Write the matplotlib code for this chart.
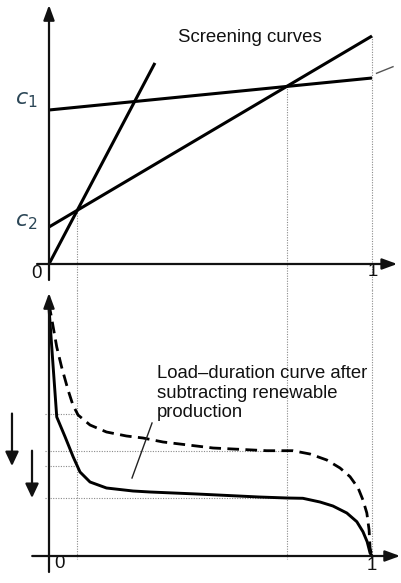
import numpy as np
import matplotlib
matplotlib.use("Agg")
import matplotlib.pyplot as plt

plt.rcParams['font.family'] = ['Liberation Sans', 'DejaVu Sans']
plt.rcParams['mathtext.fontset'] = 'dejavusans'

# ---------------- data ----------------
# screening curves: intercept (fixed cost) and slope (variable cost)
line_names = ["steep", "c2", "c1"]
intercepts = [0.0, 0.37, 1.54]
slopes = [6.13, 1.91, 0.32]
x_end = [0.328, 1.0, 1.0]

# load-duration curve (dashed, before renewables)
ldc_x = [0.0, 0.008, 0.024, 0.039, 0.059, 0.074, 0.090, 0.127, 0.178, 0.240, 0.291,
         0.353, 0.508, 0.674, 0.755, 0.808, 0.860, 0.901, 0.932, 0.957, 0.972,
         0.984, 0.991, 0.994, 1.0]
ldc_y = [2.52, 2.38, 2.09, 1.89, 1.66, 1.51, 1.41, 1.31, 1.24, 1.20, 1.18,
         1.14, 1.08, 1.053, 1.053, 1.02, 0.96, 0.88, 0.793, 0.68, 0.56,
         0.43, 0.26, 0.08, 0.0]
# load-duration curve after subtracting renewable production (solid)
net_x = [0.0, 0.012, 0.024, 0.050, 0.075, 0.096, 0.127, 0.178, 0.260, 0.313,
         0.458, 0.650, 0.737, 0.786, 0.839, 0.879, 0.922, 0.953, 0.972, 0.985,
         0.994, 1.0]
net_y = [2.48, 1.93, 1.39, 1.19, 0.99, 0.84, 0.74, 0.68, 0.65, 0.64,
         0.62, 0.59, 0.58, 0.577, 0.54, 0.50, 0.43, 0.343, 0.243, 0.143,
         0.03, 0.0]

title_top = "Screening curves"
label_bottom = "Load\u2013duration curve after\nsubtracting renewable\nproduction"

# ---------------- figure ----------------
W, H = 401, 583
fig = plt.figure(figsize=(W / 100, H / 100), dpi=100)
x0px, x1px = 49, 372
sc = x1px - x0px
xlim = (-x0px / sc, (W - x0px) / sc)

ax1 = fig.add_axes([0, 1 - 290 / H, 1, 290 / H])
ax1.set_xlim(*xlim)
ax1.set_ylim(-0.26, 2.64)
ax1.axis('off')

ax2 = fig.add_axes([0, 0, 1, 293 / H])
ax2.set_xlim(*xlim)
ax2.set_ylim(-0.27, 2.66)
ax2.axis('off')

AX_C = '#111111'
DOT = dict(color='#8a8a8a', lw=0.8, linestyle=(0, (1, 1.3)))
txt_c = '#2b4656'

def axis_arrow(ax, start, tip):
    ax.annotate('', xy=tip, xytext=start,
                arrowprops=dict(arrowstyle='-|>,head_length=0.9,head_width=0.33',
                                mutation_scale=10, lw=1.6, color=AX_C,
                                shrinkA=0, shrinkB=0))

# top axes
axis_arrow(ax1, (0, -0.16), (0, 2.59))
axis_arrow(ax1, (-0.037, 0), (1.078, 0))

# intersections
xa = (intercepts[1] - intercepts[0]) / (slopes[0] - slopes[1])
xb = (intercepts[2] - intercepts[1]) / (slopes[1] - slopes[2])
ya = intercepts[1] + slopes[1] * xa
yb = intercepts[1] + slopes[1] * xb
y1 = intercepts[1] + slopes[1] * 1.0

for xv, yv in [(xa, ya), (xb, yb), (1.0, y1)]:
    ax1.plot([xv, xv], [yv, -0.26], clip_on=False, **DOT)

for b, m, xe in zip(intercepts, slopes, x_end):
    xs = np.array([0.0, xe])
    ax1.plot(xs, b + m * xs, color='black', lw=2.2, solid_capstyle='butt')

ax1.plot([1.014, 1.065], [1.907, 1.973], color='#555555', lw=1.0)

ax1.text(-0.035, intercepts[2] + 0.1, r'$c_1$', fontsize=16, color=txt_c,
         ha='right', va='center')
ax1.text(-0.035, intercepts[1] + 0.05, r'$c_2$', fontsize=16, color=txt_c,
         ha='right', va='center')
ax1.text(0.399, 2.26, title_top, fontsize=13.4, ha='left', va='center', color='#111111')
ax1.text(-0.038, -0.09, '0', fontsize=13.4, ha='center', va='center', color='#111111')
ax1.text(1.003, -0.08, '1', fontsize=13.4, ha='center', va='center', color='#111111')

# bottom axes
for xv in [xa, xb, 1.0]:
    ax2.plot([xv, xv], [2.66, -0.03], clip_on=False, **DOT)

lvl = [np.interp(xa, ldc_x, ldc_y), np.interp(xb, ldc_x, ldc_y),
       np.interp(xa, net_x, net_y), np.interp(xb, net_x, net_y)]
ends = [xa, xb, xa, xb]
for yv, xe in zip(lvl, ends):
    ax2.plot([-0.012, xe], [yv, yv], **DOT)

axis_arrow(ax2, (0, -0.16), (0, 2.63))
axis_arrow(ax2, (-0.052, 0), (1.087, 0))

ax2.plot(ldc_x, ldc_y, color='black', lw=2.0, linestyle=(0, (4.2, 2.3)))
ax2.plot(net_x, net_y, color='black', lw=2.1)

# arrows on the left
for xp, ya_, yb_ in [(-0.1146, lvl[0], lvl[2]), (-0.0526, lvl[1], lvl[3])]:
    ax2.annotate('', xy=(xp, yb_), xytext=(xp, ya_),
                 arrowprops=dict(arrowstyle='-|>,head_length=0.85,head_width=0.4',
                                 mutation_scale=10, lw=1.6, color=AX_C,
                                 shrinkA=0, shrinkB=0))

ax2.plot([0.319, 0.257], [1.33, 0.78], color='#222222', lw=1.0)
ax2.text(0.334, 1.63, label_bottom, fontsize=13.3, ha='left', va='center',
         linespacing=1.17, color='#111111')
ax2.text(0.034, -0.07, '0', fontsize=13.4, ha='center', va='center', color='#111111')
ax2.text(1.0, -0.09, '1', fontsize=13.4, ha='center', va='center', color='#111111')

fig.savefig('out.png', dpi=100)
